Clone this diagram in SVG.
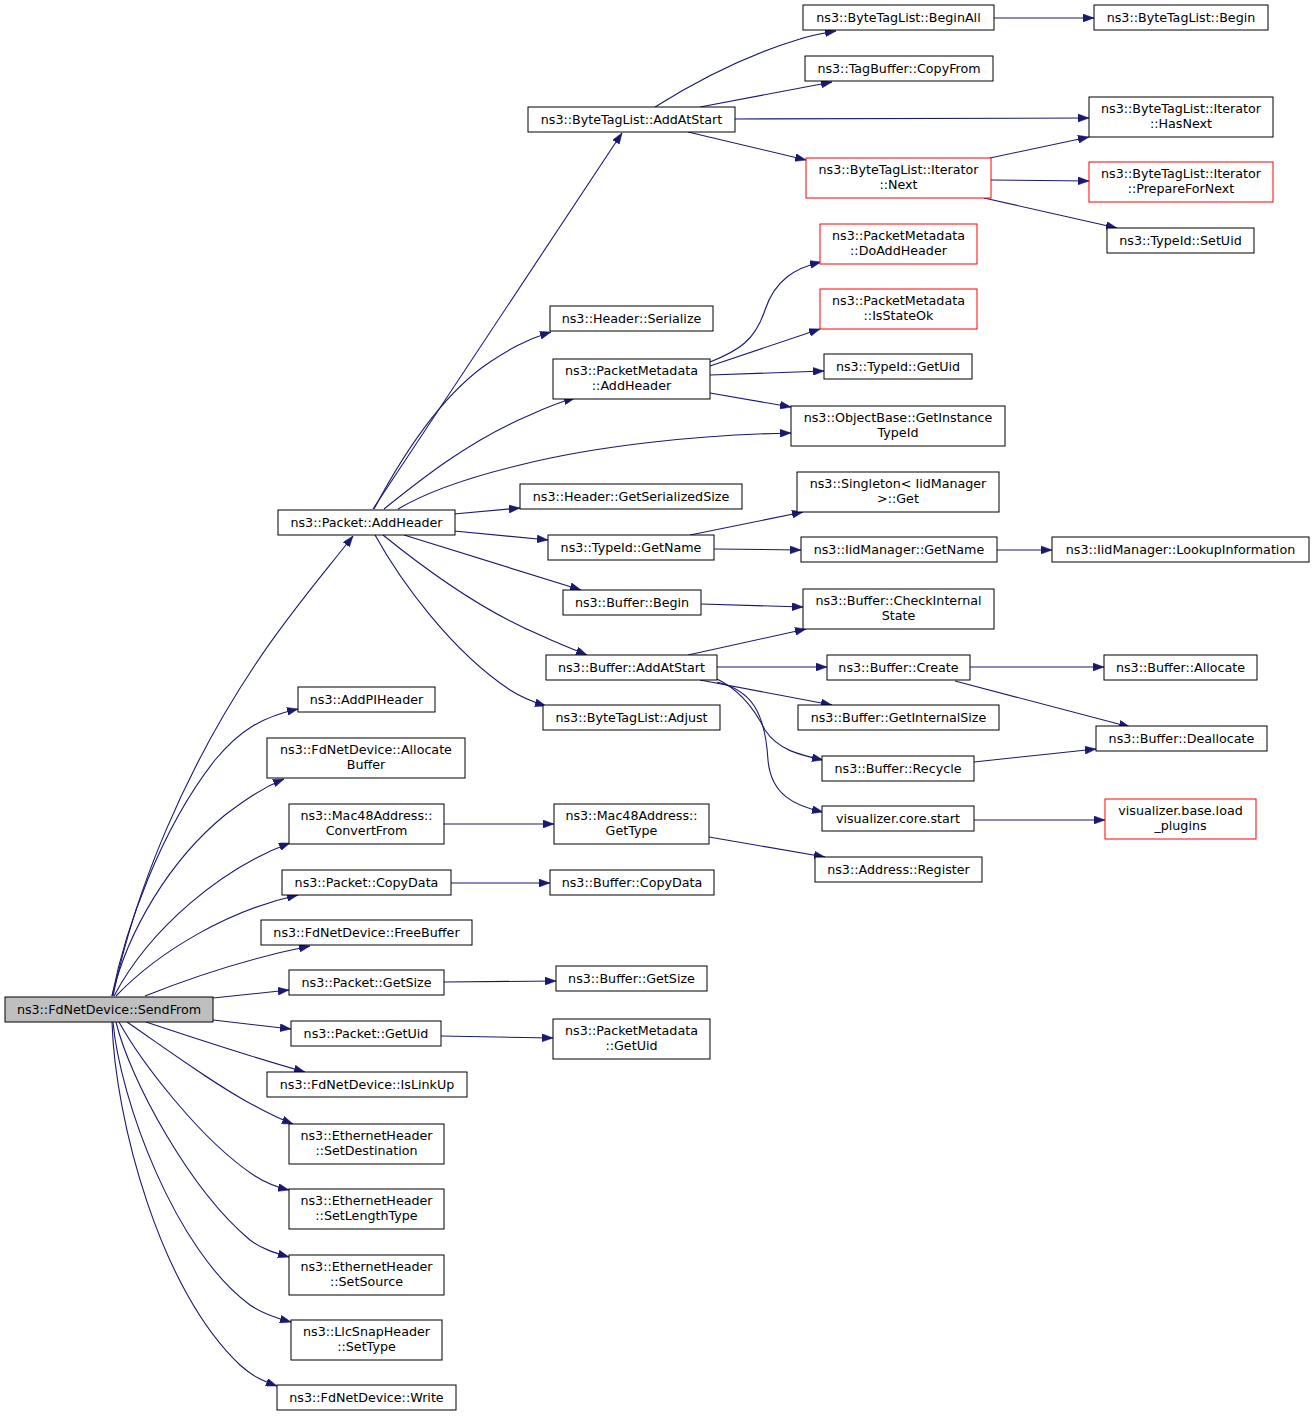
<svg xmlns="http://www.w3.org/2000/svg" width="1315" height="1417" viewBox="0 0 1315 1417">
<style>
rect{fill:#fff;stroke:#000;stroke-width:1}
rect.red{stroke:#ff0000}
rect.root{fill:#bfbfbf}
text{font-family:"DejaVu Sans","Liberation Sans",sans-serif;font-size:12.7px;fill:#000;text-anchor:middle}
#edges path{fill:none;stroke:#191970;stroke-width:1.1;marker-end:url(#arr)}
</style>
<defs>
<marker id="arr" viewBox="0 0 11 8" markerWidth="11" markerHeight="8" refX="11" refY="4" orient="auto" markerUnits="userSpaceOnUse">
<path d="M0,0 L11,4 L0,8 Z" fill="#191970" stroke="#191970" stroke-width="0.5"/>
</marker>
</defs>
<rect x="0" y="0" width="1315" height="1417" style="fill:#fff;stroke:none"/>
<g id="edges">
<path d="M113,996 C135,890 185,770 255,665 C290,612 325,572 353,536"/>
<path d="M112,996 C125,930 160,830 215,760 C240,730 262,717 298,709"/>
<path d="M112,996 C128,930 170,860 225,815 C245,800 262,788 284,779"/>
<path d="M114,996 C150,928 222,868 290,843"/>
<path d="M116,996 C160,950 230,910 298,895"/>
<path d="M145,996 C190,978 250,958 310,946"/>
<path d="M213,998 L289,990"/>
<path d="M213,1020 L291,1029"/>
<path d="M146,1022 C200,1040 255,1058 305,1072"/>
<path d="M127,1022 C165,1048 215,1085 255,1106 C268,1113 280,1119 293,1124"/>
<path d="M119,1022 C140,1060 200,1140 255,1176 C266,1183 276,1187 289,1190"/>
<path d="M116,1022 C130,1080 190,1190 250,1240 C262,1249 275,1253 289,1257"/>
<path d="M113,1022 C120,1100 175,1250 250,1305 C263,1314 276,1318 291,1322"/>
<path d="M112,1022 C115,1120 160,1290 240,1365 C252,1376 263,1381 277,1386"/>
<path d="M373,509 L622,133"/>
<path d="M374,509 C400,460 440,395 490,362 C508,350 525,340 551,332"/>
<path d="M384,509 C420,480 470,440 530,415 C545,408 560,402 575,398"/>
<path d="M398,509 C430,490 470,477 520,465 C600,445 700,435 791,433"/>
<path d="M454,514 L520,508"/>
<path d="M454,531 L548,540"/>
<path d="M404,535 L581,590"/>
<path d="M383,535 C420,565 480,610 540,635 C555,642 570,648 587,655"/>
<path d="M375,535 C400,580 450,650 510,690 C521,697 533,702 546,706"/>
<path d="M655,107 C690,85 740,57 800,39 C812,35 824,33 836,31"/>
<path d="M700,107 L832,82"/>
<path d="M735,119 L1089,118"/>
<path d="M688,132 L806,160"/>
<path d="M990,158 L1089,137"/>
<path d="M991,180 L1089,181"/>
<path d="M984,198 L1117,228"/>
<path d="M994,18 L1094,18"/>
<path d="M710,362 C740,350 755,340 765,310 C775,280 795,268 821,262"/>
<path d="M710,366 L820,329"/>
<path d="M710,375 L824,371"/>
<path d="M710,393 L791,407"/>
<path d="M690,535 L803,512"/>
<path d="M714,549 L801,550"/>
<path d="M997,550 L1052,550"/>
<path d="M701,604 L803,607"/>
<path d="M688,655 L806,629"/>
<path d="M717,667 L827,667"/>
<path d="M700,680 L832,705"/>
<path d="M717,679 C740,690 755,710 765,730 C778,750 800,755 823,760"/>
<path d="M717,682 C750,690 765,710 768,760 C771,795 795,806 823,812"/>
<path d="M970,667 L1104,667"/>
<path d="M955,681 L1130,727"/>
<path d="M974,762 L1096,749"/>
<path d="M974,820 L1105,820"/>
<path d="M444,824 L554,824"/>
<path d="M709,837 L825,857"/>
<path d="M451,883 L550,883"/>
<path d="M444,982 L556,981"/>
<path d="M441,1036 L553,1038"/>
</g>
<g id="n0"><rect class="root" x="5" y="997" width="208" height="25"/><text x="109" y="1014">ns3::FdNetDevice::SendFrom</text></g>
<g id="n1"><rect x="278" y="510" width="177" height="25"/><text x="366.5" y="527">ns3::Packet::AddHeader</text></g>
<g id="n2"><rect x="298" y="687" width="137" height="25"/><text x="366.5" y="704">ns3::AddPIHeader</text></g>
<g id="n3"><rect x="267" y="738" width="198" height="40"/><text x="366" y="754">ns3::FdNetDevice::Allocate</text><text x="366" y="769">Buffer</text></g>
<g id="n4"><rect x="289" y="804" width="155" height="40"/><text x="366.5" y="820">ns3::Mac48Address::</text><text x="366.5" y="835">ConvertFrom</text></g>
<g id="n5"><rect x="282" y="870" width="169" height="25"/><text x="366.5" y="887">ns3::Packet::CopyData</text></g>
<g id="n6"><rect x="261" y="920" width="211" height="25"/><text x="366.5" y="937">ns3::FdNetDevice::FreeBuffer</text></g>
<g id="n7"><rect x="289" y="970" width="155" height="25"/><text x="366.5" y="987">ns3::Packet::GetSize</text></g>
<g id="n8"><rect x="291" y="1021" width="150" height="25"/><text x="366" y="1038">ns3::Packet::GetUid</text></g>
<g id="n9"><rect x="267" y="1072" width="200" height="25"/><text x="367" y="1089">ns3::FdNetDevice::IsLinkUp</text></g>
<g id="n10"><rect x="289" y="1124" width="155" height="40"/><text x="366.5" y="1140">ns3::EthernetHeader</text><text x="366.5" y="1155">::SetDestination</text></g>
<g id="n11"><rect x="289" y="1189" width="155" height="40"/><text x="366.5" y="1205">ns3::EthernetHeader</text><text x="366.5" y="1220">::SetLengthType</text></g>
<g id="n12"><rect x="289" y="1255" width="155" height="40"/><text x="366.5" y="1271">ns3::EthernetHeader</text><text x="366.5" y="1286">::SetSource</text></g>
<g id="n13"><rect x="291" y="1320" width="151" height="40"/><text x="366.5" y="1336">ns3::LlcSnapHeader</text><text x="366.5" y="1351">::SetType</text></g>
<g id="n14"><rect x="277" y="1385" width="179" height="25"/><text x="366.5" y="1402">ns3::FdNetDevice::Write</text></g>
<g id="n15"><rect x="528" y="107" width="207" height="25"/><text x="631.5" y="124">ns3::ByteTagList::AddAtStart</text></g>
<g id="n16"><rect x="550" y="306" width="163" height="25"/><text x="631.5" y="323">ns3::Header::Serialize</text></g>
<g id="n17"><rect x="553" y="359" width="157" height="40"/><text x="631.5" y="375">ns3::PacketMetadata</text><text x="631.5" y="390">::AddHeader</text></g>
<g id="n18"><rect x="520" y="484" width="222" height="25"/><text x="631" y="501">ns3::Header::GetSerializedSize</text></g>
<g id="n19"><rect x="548" y="535" width="166" height="25"/><text x="631" y="552">ns3::TypeId::GetName</text></g>
<g id="n20"><rect x="563" y="590" width="138" height="25"/><text x="632" y="607">ns3::Buffer::Begin</text></g>
<g id="n21"><rect x="546" y="655" width="171" height="25"/><text x="631.5" y="672">ns3::Buffer::AddAtStart</text></g>
<g id="n22"><rect x="543" y="705" width="177" height="25"/><text x="631.5" y="722">ns3::ByteTagList::Adjust</text></g>
<g id="n23"><rect x="554" y="804" width="155" height="40"/><text x="631.5" y="820">ns3::Mac48Address::</text><text x="631.5" y="835">GetType</text></g>
<g id="n24"><rect x="550" y="870" width="164" height="25"/><text x="632" y="887">ns3::Buffer::CopyData</text></g>
<g id="n25"><rect x="556" y="966" width="151" height="25"/><text x="631.5" y="983">ns3::Buffer::GetSize</text></g>
<g id="n26"><rect x="553" y="1019" width="157" height="40"/><text x="631.5" y="1035">ns3::PacketMetadata</text><text x="631.5" y="1050">::GetUid</text></g>
<g id="n27"><rect x="803" y="5" width="191" height="25"/><text x="898.5" y="22">ns3::ByteTagList::BeginAll</text></g>
<g id="n28"><rect x="805" y="56" width="188" height="25"/><text x="899" y="73">ns3::TagBuffer::CopyFrom</text></g>
<g id="n29"><rect class="red" x="806" y="158" width="185" height="40"/><text x="898.5" y="174">ns3::ByteTagList::Iterator</text><text x="898.5" y="189">::Next</text></g>
<g id="n30"><rect class="red" x="820" y="224" width="157" height="40"/><text x="898.5" y="240">ns3::PacketMetadata</text><text x="898.5" y="255">::DoAddHeader</text></g>
<g id="n31"><rect class="red" x="820" y="289" width="157" height="40"/><text x="898.5" y="305">ns3::PacketMetadata</text><text x="898.5" y="320">::IsStateOk</text></g>
<g id="n32"><rect x="824" y="354" width="148" height="25"/><text x="898" y="371">ns3::TypeId::GetUid</text></g>
<g id="n33"><rect x="791" y="406" width="214" height="40"/><text x="898" y="422">ns3::ObjectBase::GetInstance</text><text x="898" y="437">TypeId</text></g>
<g id="n34"><rect x="797" y="472" width="202" height="40"/><text x="898" y="488">ns3::Singleton&lt; IidManager</text><text x="898" y="503">&gt;::Get</text></g>
<g id="n35"><rect x="801" y="537" width="196" height="25"/><text x="899" y="554">ns3::IidManager::GetName</text></g>
<g id="n36"><rect x="803" y="589" width="191" height="40"/><text x="898.5" y="605">ns3::Buffer::CheckInternal</text><text x="898.5" y="620">State</text></g>
<g id="n37"><rect x="827" y="655" width="143" height="25"/><text x="898.5" y="672">ns3::Buffer::Create</text></g>
<g id="n38"><rect x="798" y="705" width="201" height="25"/><text x="898.5" y="722">ns3::Buffer::GetInternalSize</text></g>
<g id="n39"><rect x="822" y="756" width="152" height="25"/><text x="898" y="773">ns3::Buffer::Recycle</text></g>
<g id="n40"><rect x="822" y="806" width="152" height="25"/><text x="898" y="823">visualizer.core.start</text></g>
<g id="n41"><rect x="815" y="857" width="167" height="25"/><text x="898.5" y="874">ns3::Address::Register</text></g>
<g id="n42"><rect x="1094" y="5" width="174" height="25"/><text x="1181" y="22">ns3::ByteTagList::Begin</text></g>
<g id="n43"><rect x="1089" y="97" width="184" height="40"/><text x="1181" y="113">ns3::ByteTagList::Iterator</text><text x="1181" y="128">::HasNext</text></g>
<g id="n44"><rect class="red" x="1089" y="162" width="184" height="40"/><text x="1181" y="178">ns3::ByteTagList::Iterator</text><text x="1181" y="193">::PrepareForNext</text></g>
<g id="n45"><rect x="1107" y="228" width="147" height="25"/><text x="1180.5" y="245">ns3::TypeId::SetUid</text></g>
<g id="n46"><rect x="1052" y="537" width="257" height="25"/><text x="1180.5" y="554">ns3::IidManager::LookupInformation</text></g>
<g id="n47"><rect x="1104" y="655" width="153" height="25"/><text x="1180.5" y="672">ns3::Buffer::Allocate</text></g>
<g id="n48"><rect x="1096" y="726" width="171" height="25"/><text x="1181.5" y="743">ns3::Buffer::Deallocate</text></g>
<g id="n49"><rect class="red" x="1105" y="799" width="151" height="40"/><text x="1180.5" y="815">visualizer.base.load</text><text x="1180.5" y="830">_plugins</text></g>
</svg>
